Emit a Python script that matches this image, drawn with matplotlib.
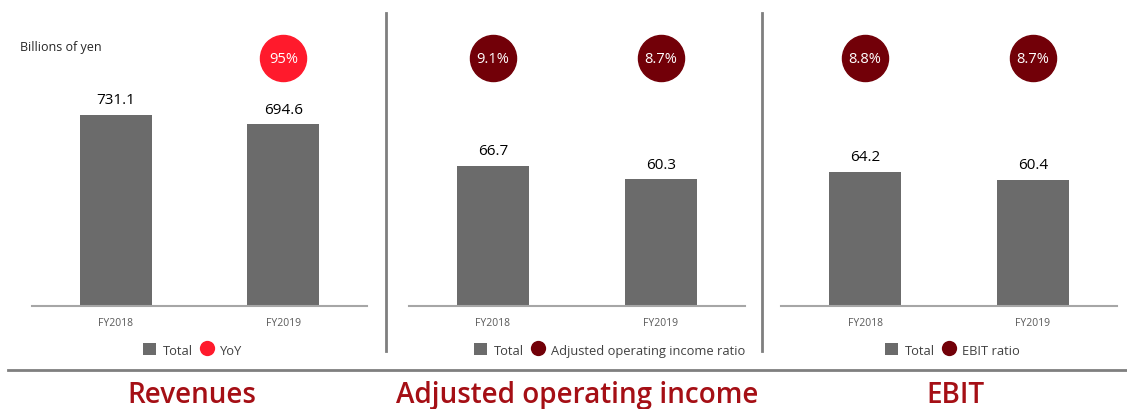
import matplotlib
matplotlib.use("Agg")
import matplotlib.pyplot as plt
from matplotlib.lines import Line2D
from matplotlib.patches import Patch
import matplotlib.transforms as mtrans

plt.rcParams['font.family'] = ['Open Sans', 'DejaVu Sans']

# ---- data ----
categories = ["FY2018", "FY2019"]
revenues = [731.1, 694.6]
revenues_yoy = [None, "95%"]
adj_op_income = [66.7, 60.3]
adj_op_ratio = ["9.1%", "8.7%"]
ebit = [64.2, 60.4]
ebit_ratio = ["8.8%", "8.7%"]
titles = ["Revenues", "Adjusted operating income", "EBIT"]
legend_second = ["YoY", "Adjusted operating income ratio", "EBIT ratio"]

W, H = 1127, 410
fig = plt.figure(figsize=(W / 100, H / 100), dpi=100)

BAR = "#6b6b6b"
RED = "#ff1a2c"
DARK = "#720008"
TITLE = "#a50f15"
LINEC = "#7f7f7f"

def px_axes(x0, x1, ybase, ytop):
    return fig.add_axes([x0 / W, (H - ybase) / H, (x1 - x0) / W, (ybase - ytop) / H])

panels = [
    dict(x0=32, x1=367, vals=revenues, circ=revenues_yoy, ccol=RED, ymax=1121,
         leg_anchor=(0.48, "center"), title_dx=-7.5),
    dict(x0=409, x1=745, vals=adj_op_income, circ=adj_op_ratio, ccol=DARK, ymax=139.5,
         leg_anchor=(1.0, "right"), title_dx=0),
    dict(x0=781, x1=1117, vals=ebit, circ=ebit_ratio, ccol=DARK, ymax=140.4,
         leg_anchor=(0.51, "center"), title_dx=6),
]

ybase, ytop = 307, 14
for i, p in enumerate(panels):
    ax = px_axes(p["x0"], p["x1"], ybase, ytop)
    xs = list(range(len(categories)))
    ax.bar(xs, p["vals"], width=0.43, color=BAR, zorder=2)
    ax.set_xlim(-0.5, 1.5)
    ax.set_ylim(0, p["ymax"])
    for s in ["top", "left", "right"]:
        ax.spines[s].set_visible(False)
    ax.spines["bottom"].set_color("#a6a6a6")
    ax.spines["bottom"].set_linewidth(1.5)
    ax.set_yticks([])
    ax.set_xticks(xs)
    ax.set_xticklabels(categories, fontsize=7.5, color="#595959")
    ax.tick_params(axis="x", length=0, pad=8)
    for x, v in zip(xs, p["vals"]):
        ax.annotate(f"{v:.1f}", (x, v), xytext=(0, 5.5), textcoords="offset points",
                    ha="center", va="bottom", fontsize=11, color="black")
    tr = mtrans.blended_transform_factory(ax.transData, ax.transAxes)
    for x, c in zip(xs, p["circ"]):
        if c is None:
            continue
        ax.scatter([x], [0.846], s=1100, color=p["ccol"], transform=tr, zorder=3, clip_on=False)
        ax.text(x, 0.846, c, transform=tr, ha="center", va="center", color="white",
                fontsize=10.5, zorder=4)
    handles = [Patch(facecolor=BAR, edgecolor="none"),
               Line2D([], [], marker="o", linestyle="none", markersize=11,
                      markerfacecolor=p["ccol"], markeredgecolor="none")]
    xa, loc = p["leg_anchor"]
    leg = ax.legend(handles, ["Total", legend_second[i]], loc=f"{'center' if loc=='center' else 'center right'}",
                    bbox_to_anchor=(xa, -0.150), ncol=2, frameon=False, fontsize=9.3,
                    handlelength=1.0, handleheight=1.0, handletextpad=0.5, columnspacing=0.6,
                    borderaxespad=0, borderpad=0)
    for t in leg.get_texts():
        t.set_color("#404040")
    fig.text(((p["x0"] + p["x1"]) / 2 + p["title_dx"]) / W, (H - 396) / H, titles[i], ha="center", va="center",
             fontsize=20.1, color=TITLE, fontweight="semibold")

fig.text(20 / W, (H - 48) / H, "Billions of yen", ha="left", va="center", fontsize=9, color="#262626")

# separators
for xv in [386, 762]:
    fig.add_artist(Line2D([xv / W, xv / W], [(H - 352) / H, (H - 14) / H], color=LINEC, linewidth=2))
fig.add_artist(Line2D([8 / W, 1127 / W], [(H - 371) / H, (H - 371) / H], color=LINEC, linewidth=2))

fig.savefig("out.png", dpi=100)
